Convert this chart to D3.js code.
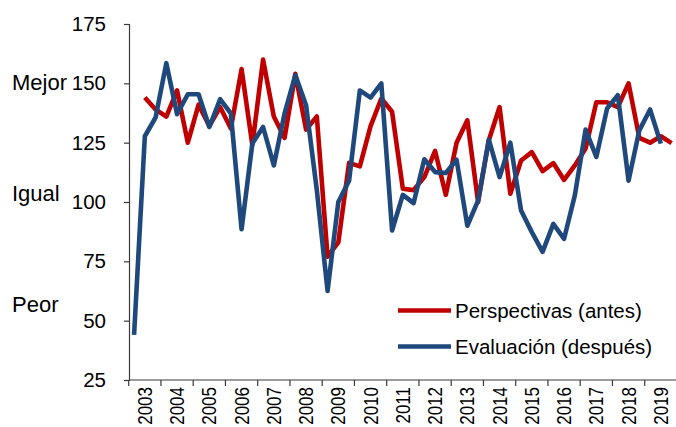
<!DOCTYPE html>
<html>
<head>
<meta charset="utf-8">
<script src="https://cdn.jsdelivr.net/npm/d3@7"></script>
<style>
  body { margin: 0; background: #fff; }
  text { font-family: "Liberation Sans", Arial, sans-serif; fill: #000; }
</style>
</head>
<body>
<div id="chart"></div>
<script>
// three readings per year, 2003-2019
var years = ["2003","2004","2005","2006","2007","2008","2009","2010","2011",
             "2012","2013","2014","2015","2016","2017","2018","2019"];
var periods = ["1", "2", "3"];
var yTicks = [25, 50, 75, 100, 125, 150, 175];
var sideLabels = [["Mejor", 150.5], ["Igual", 103.5], ["Peor", 57]];

var perspectivas = [null, 144, 139, 136, 147, 125, 141, 132, 140, 131,
  156, 124, 160, 136, 127, 154, 130.5, 136, 77, 83,
  116.5, 115, 132, 143.6, 138, 105.6, 105, 110.5, 121.5, 103,
  125, 134.4, 100, 126, 140, 103.5, 117.5, 121, 113, 116.4,
  109.3, 115.4, 122.5, 142, 142, 140, 150, 127, 125, 127.7, 124.8];

var evaluacion = [44, 127.7, 135.6, 158.5, 137, 145.4, 145.4, 131.6, 143.3, 137.3,
  88.5, 124.6, 131.6, 115.4, 137.3, 153.5, 140.8, 105, 62.5, 100,
  109, 147, 144, 150, 88, 103, 99.5, 118, 112.6, 112.2,
  117.8, 90, 100.6, 126.3, 110.5, 125, 96.4, 87.3, 79, 90.8,
  84.5, 102.8, 130.5, 119, 139.4, 145, 109, 130.2, 139, 124.6, null];

var categories = [];
years.forEach(function(y){ periods.forEach(function(p){ categories.push(y + "-" + p); }); });

var width = 676, height = 427;
var axisCol = "#3a3a3a";

var svg = d3.select("#chart").append("svg")
    .attr("width", width)
    .attr("height", height);

var x = d3.scaleBand()
    .domain(categories)
    .range([128.7, 128.7 + categories.length * 10.75]);

var y = d3.scaleLinear()
    .domain([25, 175])
    .range([380, 24]);

// lines
var line = d3.line()
    .defined(function(d){ return d.v != null; })
    .x(function(d){ return x(d.c) + x.bandwidth() / 2; })
    .y(function(d){ return y(d.v); });

function rows(vals){
  return categories.map(function(c, i){ return {c: c, v: vals[i]}; });
}

svg.append("path")
    .datum(rows(perspectivas))
    .attr("d", line)
    .attr("fill", "none")
    .attr("stroke", "#C00000")
    .attr("stroke-width", 4.6)
    .attr("stroke-linejoin", "round");

svg.append("path")
    .datum(rows(evaluacion))
    .attr("d", line)
    .attr("fill", "none")
    .attr("stroke", "#1F497D")
    .attr("stroke-width", 4.6)
    .attr("stroke-linejoin", "round");

// y axis
var yAxis = svg.append("g")
    .attr("transform", "translate(129,0)")
    .call(d3.axisLeft(y).tickValues(yTicks).tickSize(5).tickPadding(18));
yAxis.select(".domain").attr("stroke", axisCol).attr("stroke-width", 1.2);
yAxis.selectAll(".tick line").attr("stroke", axisCol).attr("stroke-width", 1.2);
yAxis.selectAll(".tick text")
    .attr("font-size", 20.5)
    .attr("font-family", "Liberation Sans, Arial, sans-serif")
    .attr("fill", "#000");

// x axis: ticks at year boundaries
var xAxisG = svg.append("g");
xAxisG.append("line")
    .attr("x1", 129).attr("x2", width)
    .attr("y1", 380).attr("y2", 380)
    .attr("stroke", axisCol).attr("stroke-width", 1.2);

xAxisG.selectAll(".ytick")
    .data(years)
    .enter()
    .append("line")
    .attr("x1", function(d){ return x(d + "-1"); })
    .attr("x2", function(d){ return x(d + "-1"); })
    .attr("y1", 380).attr("y2", 386)
    .attr("stroke", axisCol).attr("stroke-width", 1.2);

xAxisG.selectAll(".ylab")
    .data(years)
    .enter()
    .append("text")
    .text(function(d){ return d; })
    .attr("font-size", 17)
    .attr("text-anchor", "end")
    .attr("dy", "0.35em")
    .attr("transform", function(d){
      var cx = x(d + "-2") + x.bandwidth() / 2;
      return "translate(" + cx + ",387) scale(1.19,1) rotate(-90)";
    });

// Mejor / Igual / Peor
svg.selectAll(".side")
    .data(sideLabels)
    .enter()
    .append("text")
    .text(function(d){ return d[0]; })
    .attr("font-size", 22)
    .attr("x", 12)
    .attr("y", function(d){ return y(d[1]); })
    .attr("dy", "0.35em");

// legend
var legend = [["Perspectivas (antes)", "#C00000", 310.5], ["Evaluación (después)", "#1F497D", 346.5]];
var lg = svg.append("g");
lg.selectAll("line")
    .data(legend)
    .enter()
    .append("line")
    .attr("x1", 398).attr("x2", 451)
    .attr("y1", function(d){ return d[2]; })
    .attr("y2", function(d){ return d[2]; })
    .attr("stroke", function(d){ return d[1]; })
    .attr("stroke-width", 4.6);
lg.selectAll("text")
    .data(legend)
    .enter()
    .append("text")
    .text(function(d){ return d[0]; })
    .attr("font-size", 20.5)
    .attr("x", 455)
    .attr("y", function(d){ return d[2]; })
    .attr("dy", "0.35em");
</script>
</body>
</html>
